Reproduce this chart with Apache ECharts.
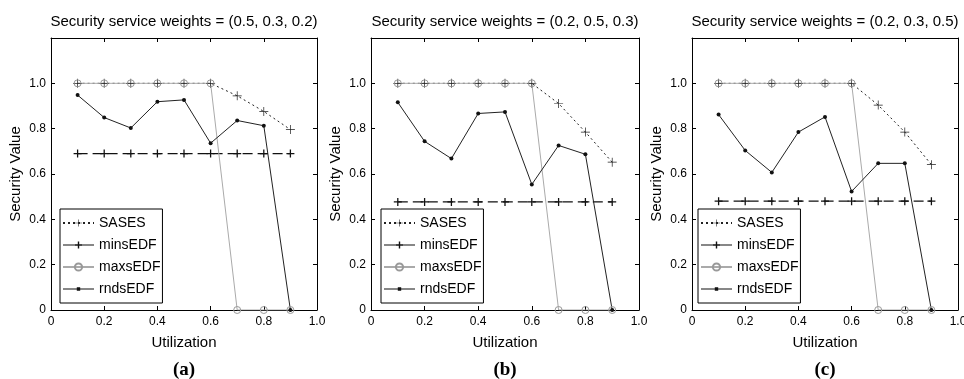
<!DOCTYPE html>
<html>
<head>
<meta charset="utf-8">
<script src="https://cdn.jsdelivr.net/npm/echarts@6/dist/echarts.min.js"></script>
<style>
  html, body { margin: 0; padding: 0; background: #fff; }
  #chart { width: 964px; height: 379px; }
</style>
</head>
<body>
<div id="chart"></div>
<script>
// utilization values on the x axis
const utilization = [0.1, 0.2, 0.3, 0.4, 0.5, 0.6, 0.7, 0.8, 0.9];

// (a) weights = (0.5, 0.3, 0.2)
const sasesA = [1.0, 1.0, 1.0, 1.0, 1.0, 1.0, 0.945, 0.876, 0.796];
const minsA = [0.69, 0.69, 0.69, 0.69, 0.69, 0.69, 0.69, 0.69, 0.69];
const maxsA = [1.0, 1.0, 1.0, 1.0, 1.0, 1.0, 0, 0, 0];
const rndsA = [0.948, 0.849, 0.803, 0.919, 0.927, 0.736, 0.836, 0.813, 0];

// (b) weights = (0.2, 0.5, 0.3)
const sasesB = [1.0, 1.0, 1.0, 1.0, 1.0, 1.0, 0.911, 0.785, 0.652];
const minsB = [0.477, 0.477, 0.477, 0.477, 0.477, 0.477, 0.477, 0.477, 0.477];
const maxsB = [1.0, 1.0, 1.0, 1.0, 1.0, 1.0, 0, 0, 0];
const rndsB = [0.916, 0.744, 0.668, 0.867, 0.874, 0.554, 0.726, 0.687, 0];

// (c) weights = (0.2, 0.3, 0.5)
const sasesC = [1.0, 1.0, 1.0, 1.0, 1.0, 1.0, 0.904, 0.785, 0.641];
const minsC = [0.48, 0.48, 0.48, 0.48, 0.48, 0.48, 0.48, 0.48, 0.48];
const maxsC = [1.0, 1.0, 1.0, 1.0, 1.0, 1.0, 0, 0, 0];
const rndsC = [0.862, 0.704, 0.607, 0.785, 0.852, 0.523, 0.647, 0.647, 0];

const panelTitles = [
  'Security service weights = (0.5, 0.3, 0.2)',
  'Security service weights = (0.2, 0.5, 0.3)',
  'Security service weights = (0.2, 0.3, 0.5)'
];
const panelLabels = ['(a)', '(b)', '(c)'];

const panels = [
  [sasesA, minsA, maxsA, rndsA],
  [sasesB, minsB, maxsB, rndsB],
  [sasesC, minsC, maxsC, rndsC]
];

// layout of the three plot boxes
const boxes = [
  { left: 51, top: 38, width: 266, height: 272 },
  { left: 371, top: 38, width: 268, height: 272 },
  { left: 692, top: 38, width: 266, height: 272 }
];
const legendLeft = [60, 381, 698];

const sans = 'Liberation Sans, Arial, sans-serif';

const plusPath = 'path://M4.6,0H5.4V10H4.6Z M0,4.6H10V5.4H0Z';
const plusBold = 'path://M4.2,0H5.8V10H4.2Z M0,4.2H10V5.8H0Z';
// legend icons drawn as line + marker
const minsIcon = 'path://M0,4H31V5H0Z M14.8,1H16.2V8H14.8Z M12,3.8H19V5.2H12Z';
const rndsIcon = 'path://M0,4H31V5H0Z M13.8,2.8H17.2V6.2H13.8Z';

const fmt = (v) => (v === 0 ? '0' : v.toFixed(1));

const chart = echarts.init(document.getElementById('chart'));

const grid = [], xAxis = [], yAxis = [], series = [], legend = [], graphic = [];

boxes.forEach((b, i) => {
  grid.push({ left: b.left, top: b.top, width: b.width, height: b.height, show: false, outerBoundsMode: 'none' });

  const axisLine = { show: true, onZero: false, lineStyle: { color: '#000', width: 1 } };
  const tick = { show: true, inside: true, length: 4, lineStyle: { color: '#000' } };

  // bottom x axis
  xAxis.push({
    type: 'value', gridIndex: i, min: 0, max: 1, interval: 0.2,
    position: 'bottom',
    axisLine, axisTick: tick, splitLine: { show: false },
    axisLabel: { formatter: fmt, color: '#000', fontSize: 12, fontFamily: sans, margin: 6 },
    name: 'Utilization', nameLocation: 'middle', nameGap: 25,
    nameTextStyle: { color: '#000', fontSize: 15, fontFamily: sans }
  });
  // top box edge
  xAxis.push({
    type: 'value', gridIndex: i, min: 0, max: 1, interval: 0.2,
    position: 'top',
    axisLine, axisTick: tick, splitLine: { show: false },
    axisLabel: { show: false }
  });
  // left y axis
  yAxis.push({
    type: 'value', gridIndex: i, min: 0, max: 1.2, interval: 0.2,
    position: 'left',
    axisLine, axisTick: tick, splitLine: { show: false },
    axisLabel: {
      formatter: (v) => (v > 1.1 ? '' : fmt(v)),
      color: '#000', fontSize: 12, fontFamily: sans, margin: 5
    },
    name: 'Security Value', nameLocation: 'middle', nameGap: 28,
    nameTextStyle: { color: '#000', fontSize: 15, fontFamily: sans }
  });
  // right box edge
  yAxis.push({
    type: 'value', gridIndex: i, min: 0, max: 1.2, interval: 0.2,
    position: 'right',
    axisLine, axisTick: tick, splitLine: { show: false },
    axisLabel: { show: false }
  });

  const [sases, mins, maxs, rnds] = panels[i];
  const pairs = (arr) => utilization.map((u, k) => [u, arr[k]]);
  const common = { xAxisIndex: i * 2, yAxisIndex: i * 2, animation: false, z: 2 };

  series.push({
    ...common, name: 'SASES', type: 'line', data: pairs(sases),
    symbol: plusPath, symbolSize: 9,
    lineStyle: { color: '#222', width: 1, type: [2, 3] },
    itemStyle: { color: '#222' }
  });
  series.push({
    ...common, name: 'minsEDF', type: 'line', data: pairs(mins),
    symbol: plusBold, symbolSize: 8,
    lineStyle: { color: '#111', width: 1.2, type: [10, 5] },
    itemStyle: { color: '#111' }
  });
  series.push({
    ...common, name: 'maxsEDF', type: 'line', data: pairs(maxs),
    symbol: 'circle', symbolSize: 7,
    lineStyle: { color: '#aaa', width: 1 },
    itemStyle: { color: 'rgba(255,255,255,0)', borderColor: '#999', borderWidth: 1 }
  });
  series.push({
    ...common, name: 'rndsEDF', type: 'line', data: pairs(rnds),
    symbol: 'circle', symbolSize: 4,
    lineStyle: { color: '#222', width: 1 },
    itemStyle: { color: '#111' }
  });

  legend.push({
    data: [
      { name: 'SASES' },
      { name: 'minsEDF', icon: minsIcon },
      { name: 'maxsEDF' },
      { name: 'rndsEDF', icon: rndsIcon }
    ],
    orient: 'vertical',
    left: legendLeft[i], top: 209,
    itemWidth: 31, itemHeight: 9, itemGap: 8,
    padding: [7, 2, 7, 2],
    backgroundColor: '#fff', borderColor: '#000', borderWidth: 1, borderRadius: 0,
    textStyle: { color: '#000', fontSize: 14, fontFamily: sans },
    selectedMode: false
  });

  const cx = b.left + b.width / 2;
  graphic.push({
    type: 'text', x: cx, y: 22,
    style: { text: panelTitles[i], textAlign: 'center', textVerticalAlign: 'middle', font: '15px ' + sans, fill: '#000' }
  });
  graphic.push({
    type: 'text', x: cx, y: 370,
    style: { text: panelLabels[i], textAlign: 'center', textVerticalAlign: 'middle', font: 'bold 19px Liberation Serif, Times New Roman, serif', fill: '#000' }
  });
});

chart.setOption({
  backgroundColor: '#fff',
  animation: false,
  grid, xAxis, yAxis, series, legend, graphic
});
</script>
</body>
</html>
